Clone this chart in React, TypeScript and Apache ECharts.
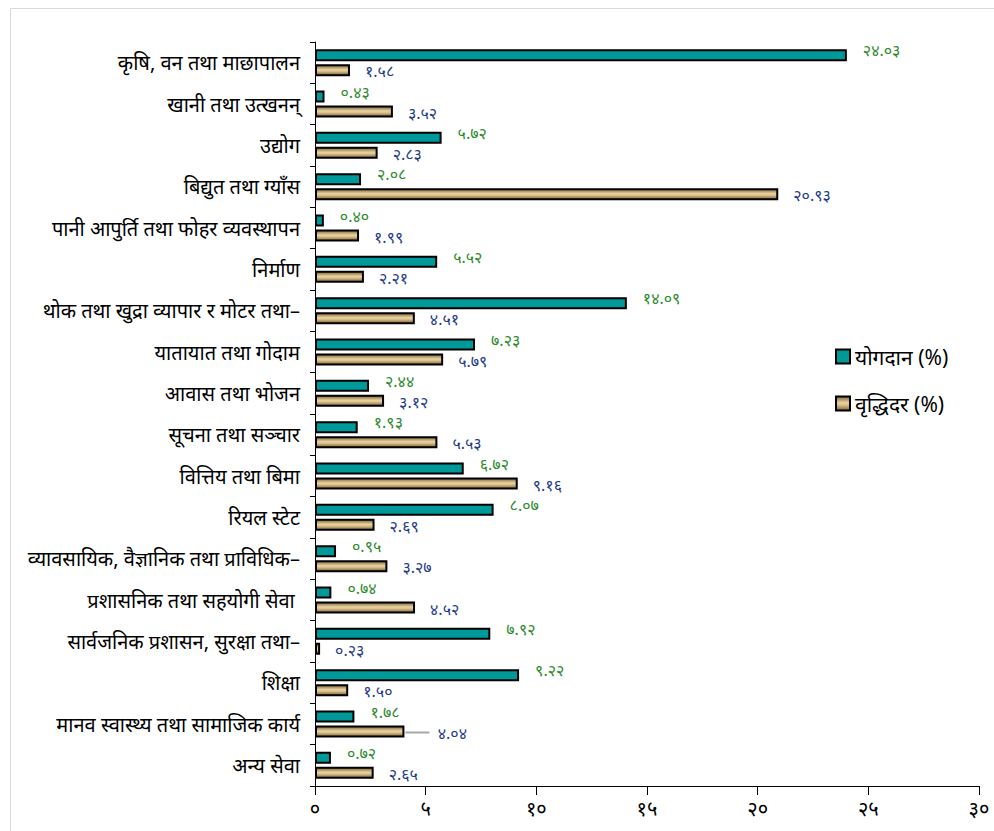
import React, { useEffect, useRef } from "react";
import * as echarts from "echarts";

const categories = [
  "कृषि, वन तथा माछापालन",
  "खानी तथा उत्खनन्",
  "उद्योग",
  "बिद्युत तथा ग्याँस",
  "पानी आपुर्ति तथा फोहर व्यवस्थापन",
  "निर्माण",
  "थोक तथा खुद्रा व्यापार र मोटर तथा–",
  "यातायात तथा गोदाम",
  "आवास तथा भोजन",
  "सूचना तथा सञ्चार",
  "वित्तिय तथा बिमा",
  "रियल स्टेट",
  "व्यावसायिक, वैज्ञानिक तथा प्राविधिक–",
  "प्रशासनिक तथा सहयोगी सेवा ",
  "सार्वजनिक प्रशासन, सुरक्षा तथा–",
  "शिक्षा",
  "मानव स्वास्थ्य तथा सामाजिक कार्य",
  "अन्य सेवा",
];

const contribution = [24.03, 0.43, 5.72, 2.08, 0.4, 5.52, 14.09, 7.23, 2.44, 1.93, 6.72, 8.07, 0.95, 0.74, 7.92, 9.22, 1.78, 0.72];
const growth = [1.58, 3.52, 2.83, 20.93, 1.99, 2.21, 4.51, 5.79, 3.12, 5.53, 9.16, 2.69, 3.27, 4.52, 0.23, 1.5, 4.04, 2.65];

const xTicks = [0, 5, 10, 15, 20, 25, 30];
const seriesNames = ["योगदान (%)", "वृद्धिदर (%)"];

const DEV = "०१२३४५६७८९";
const toDev = (s: string) => s.replace(/\d/g, (d) => DEV[+d]);
const fmt2 = (v: number) => toDev(v.toFixed(2));

export default function App() {
  const ref = useRef<HTMLDivElement>(null);
  useEffect(() => {
    if (!ref.current) return;
    const chart = echarts.init(ref.current, null, { renderer: "svg" });
    const tan = new echarts.graphic.LinearGradient(0, 0, 0, 1, [
      { offset: 0, color: "#7d6238" },
      { offset: 0.45, color: "#e8d3a0" },
      { offset: 0.6, color: "#dcc38e" },
      { offset: 1, color: "#7d6238" },
    ]);
    const growthData = growth.map((v, i) =>
      i === 16
        ? {
            value: v,
            label: {
              distance: 1,
              formatter: "{l|}  {v|" + fmt2(v) + "}",
              rich: {
                l: { width: 24, height: 2, backgroundColor: "#a6a6a6" },
                v: { color: "#1f3c88", fontSize: 16, lineHeight: 15 },
              },
            },
          }
        : v
    );
    chart.setOption({
      animation: false,
      backgroundColor: "#ffffff",
      textStyle: { fontFamily: "'Noto Sans', sans-serif" },
      graphic: [
        {
          type: "rect",
          shape: { x: 10.5, y: 8.5, width: 1000, height: 900 },
          style: { fill: "none", stroke: "#d9d9d9", lineWidth: 1 },
          silent: true,
        },
      ],
      grid: { left: 315, right: 15, top: 42, bottom: 45, containLabel: false },
      legend: {
        orient: "vertical",
        left: 830,
        top: 341,
        itemWidth: 14,
        itemHeight: 14,
        itemGap: 26,
        icon: "rect",
        textStyle: { fontSize: 21, color: "#000" },
        data: seriesNames,
      },
      xAxis: {
        type: "value",
        min: xTicks[0],
        max: xTicks[xTicks.length - 1],
        interval: 5,
        axisLine: { show: true, lineStyle: { color: "#000", width: 1 } },
        axisTick: { show: true, length: 9, lineStyle: { color: "#000" } },
        splitLine: { show: false },
        axisLabel: {
          color: "#000",
          fontSize: 20,
          margin: 12,
          formatter: (v: number) => toDev(String(v)),
        },
      },
      yAxis: {
        type: "category",
        inverse: true,
        data: categories,
        axisLine: { show: true, lineStyle: { color: "#000", width: 1 } },
        axisTick: { show: true, length: 5, lineStyle: { color: "#000" } },
        axisLabel: { color: "#000", fontSize: 20, margin: 15 },
      },
      series: [
        {
          name: seriesNames[0],
          type: "bar",
          data: contribution,
          barWidth: 12,
          barGap: "25%",
          itemStyle: { color: "#009999", borderColor: "#000", borderWidth: 2 },
          label: {
            show: true,
            position: "right",
            distance: 16,
            offset: [0, -5],
            color: "#2e8b2e",
            fontSize: 16,
            lineHeight: 15,
            formatter: (p: any) => fmt2(p.value),
          },
        },
        {
          name: seriesNames[1],
          type: "bar",
          data: growthData,
          barWidth: 12,
          itemStyle: { color: tan, borderColor: "#000", borderWidth: 2 },
          label: {
            show: true,
            position: "right",
            distance: 15,
            offset: [0, 1],
            color: "#1f3c88",
            fontSize: 16,
            lineHeight: 15,
            formatter: (p: any) => fmt2(p.value),
          },
        },
      ],
    });
    return () => chart.dispose();
  }, []);
  return (
    <div
      ref={ref}
      style={{ position: "absolute", left: 0, top: 0, width: 994, height: 831 }}
    />
  );
}
